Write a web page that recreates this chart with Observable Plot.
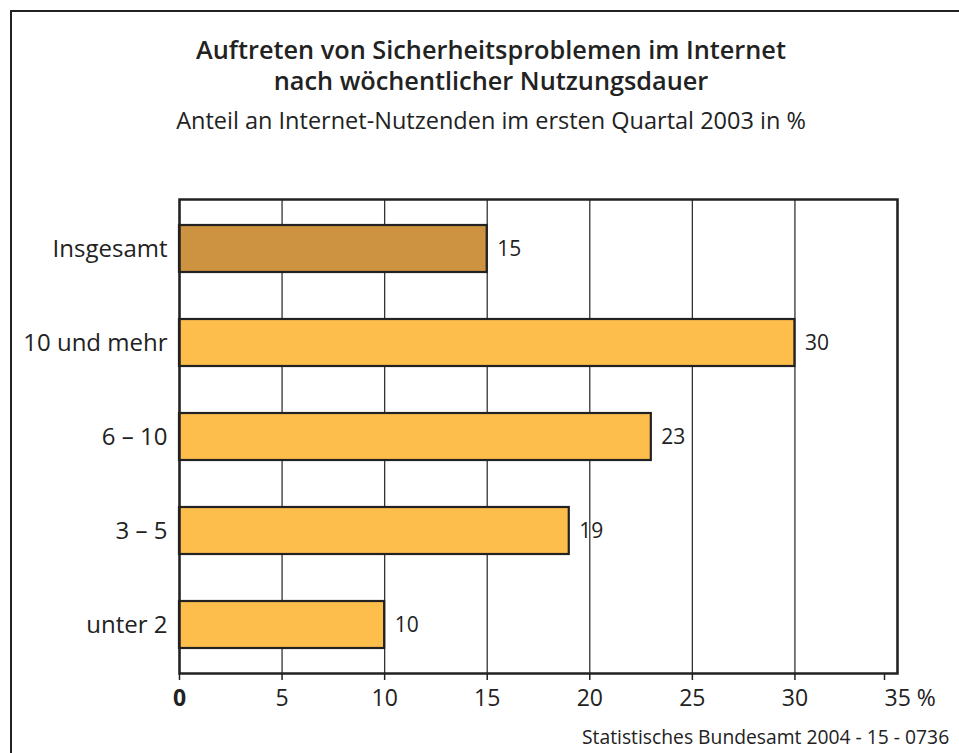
<!DOCTYPE html>
<html><head><meta charset="utf-8">
<script src="https://cdn.jsdelivr.net/npm/d3@7"></script>
<script src="https://cdn.jsdelivr.net/npm/@observablehq/plot@0.6"></script>
<style>
body{margin:0;background:#fff;font-family:"Open Sans",sans-serif;color:#222;}
#wrap{position:relative;width:959px;height:753px;overflow:hidden;}
#frame{position:absolute;left:10px;top:10px;width:1000px;height:800px;border:2.5px solid #222;box-sizing:border-box;}
#head{position:absolute;left:0;top:0;width:959px;height:150px;text-align:center;}
#t1{position:absolute;left:0;width:982px;top:34px;font-size:25.3px;font-weight:600;line-height:31px;}
#t2{position:absolute;left:0;width:982px;top:105px;font-size:23.5px;line-height:30px;}
#chart{position:absolute;left:0;top:150px;}
#cap{position:absolute;left:582px;top:725px;font-size:19.3px;line-height:24px;white-space:nowrap;}
</style></head>
<body><div id="wrap">
<div id="frame"></div>
<div id="head"><div id="t1">Auftreten von Sicherheitsproblemen im Internet<br>nach wöchentlicher Nutzungsdauer</div>
<div id="t2">Anteil an Internet-Nutzenden im ersten Quartal 2003 in %</div></div>
<div id="chart"></div>
<div id="cap">Statistisches Bundesamt 2004 - 15 - 0736</div>
</div>
<script>
const categories = ["Insgesamt", "10 und mehr", "6 – 10", "3 – 5", "unter 2"];
const values = [15, 30, 23, 19, 10];
const xTicks = [0, 5, 10, 15, 20, 25, 30, 35];
const tickLabels = ["0", "5", "10", "15", "20", "25", "30", "35 %"];

const data = categories.map((c, i) => ({cat: c, v: values[i], total: i === 0}));
const labelOf = d => tickLabels[xTicks.indexOf(d)];

const chart = Plot.plot({
  width: 959,
  height: 563,
  marginLeft: 179,
  marginRight: 62,
  marginTop: 49,
  marginBottom: 40,
  style: {fontFamily: "Open Sans, sans-serif", fontSize: "22px", color: "#222", background: "transparent"},
  x: {domain: [0, 35], label: null},
  y: {domain: categories, paddingInner: 0.5, paddingOuter: 0.25, label: null},
  marks: [
    Plot.gridX(xTicks, {stroke: "#333", strokeOpacity: 1, strokeWidth: 1.3}),
    Plot.barX(data, {x: "v", y: "cat", fill: d => d.total ? "#CE9341" : "#FDBE4C", stroke: "#222", strokeWidth: 2.2}),
    Plot.text(data, {x: "v", y: "cat", text: d => String(d.v), dx: 10, textAnchor: "start", fontSize: 21, fill: "#222"}),
    Plot.frame({stroke: "#222", strokeWidth: 2.5}),
    Plot.axisX(xTicks.slice(1, -1), {tickSize: 7, tickPadding: 9, tickFormat: labelOf, fontSize: 23, stroke: "#222", strokeWidth: 1.5}),
    Plot.axisX([0], {tickSize: 7, tickPadding: 9, tickFormat: labelOf, fontSize: 23, fontWeight: "bold", stroke: "#222", strokeWidth: 1.5}),
    Plot.axisX([35], {tickSize: 7, tickPadding: 9, tickFormat: labelOf, fontSize: 23, stroke: "#222", strokeWidth: 1.5, textAnchor: "start", dx: -13}),
    Plot.axisY({tickSize: 0, tickPadding: 12, fontSize: 24})
  ]
});
document.getElementById("chart").appendChild(chart);
</script>
</body></html>
